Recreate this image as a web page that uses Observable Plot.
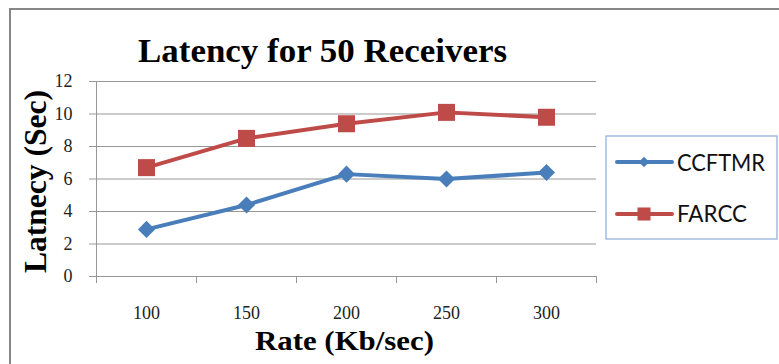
<!DOCTYPE html>
<html>
<head>
<meta charset="utf-8">
<script src="https://cdn.jsdelivr.net/npm/d3@7"></script>
<script src="https://cdn.jsdelivr.net/npm/@observablehq/plot@0.6"></script>
<style>
  html, body { margin: 0; padding: 0; background: #fff; }
  svg { display: block; }
</style>
</head>
<body>
<div id="chart"></div>
<script>
// Transmission rate (Kb/sec) on the category axis
const rates = [100, 150, 200, 250, 300];
// Latency in seconds for each protocol
const ccftmr = [2.9, 4.4, 6.3, 6.0, 6.4];
const farcc = [6.7, 8.5, 9.4, 10.1, 9.8];
const seriesNames = ["CCFTMR", "FARCC"];
const seriesColors = ["#4a7ebb", "#be4b48"];
const yTicks = [0, 2, 4, 6, 8, 10, 12];
// category boundaries where the x-axis tick marks sit
const xBounds = [75, 125, 175, 225, 275, 325];

const rows = [
  ...rates.map((r, i) => ({rate: r, latency: ccftmr[i], series: seriesNames[0]})),
  ...rates.map((r, i) => ({rate: r, latency: farcc[i], series: seriesNames[1]}))
];

const serif = "'Liberation Serif', 'Times New Roman', serif";
const grid = "#979797";

const svg = Plot.plot({
  width: 779,
  height: 364,
  marginLeft: 96,
  marginRight: 183,
  marginTop: 81,
  marginBottom: 88,
  style: {background: "#fff", fontFamily: serif, fontSize: "18px"},
  x: {type: "linear", domain: [75, 325]},
  y: {domain: [0, 12]},
  color: {domain: seriesNames, range: seriesColors},
  marks: [
    Plot.ruleY(yTicks, {stroke: grid, strokeWidth: 1}),
    Plot.ruleX([75], {stroke: grid, strokeWidth: 1}),
    Plot.axisY(yTicks, {tickSize: 7, tickPadding: 17, fontSize: 18, stroke: grid, fill: "#222", label: null, fontFamily: serif}),
    Plot.axisX(xBounds, {tickSize: 7, tickFormat: () => "", stroke: grid, label: null}),
    Plot.axisX(rates, {tickSize: 0, tickPadding: 30, fontSize: 18, fill: "#222", label: null, fontFamily: serif}),
    Plot.line(rows, {x: "rate", y: "latency", z: "series", stroke: "series", strokeWidth: 4, strokeLinejoin: "round"}),
    Plot.dot(rows.filter(d => d.series === seriesNames[0]), {x: "rate", y: "latency", symbol: "diamond2", r: 7.7, fill: seriesColors[0], stroke: "none"}),
    Plot.dot(rows.filter(d => d.series === seriesNames[1]), {x: "rate", y: "latency", symbol: "square", r: 9.6, fill: seriesColors[1], stroke: "none"})
  ]
});

const s = d3.select(svg);

// tick label size
s.selectAll("g[aria-label$='tick label']").attr("font-size", 18);

// chart area border
s.append("rect")
  .attr("x", 10).attr("y", 9).attr("width", 900).attr("height", 500)
  .attr("fill", "none").attr("stroke", "#868686").attr("stroke-width", 2);

// title
s.append("text")
  .attr("x", 138).attr("y", 62)
  .attr("text-anchor", "start")
  .attr("font-family", serif).attr("font-weight", "bold").attr("font-size", 33)
  .attr("textLength", 369).attr("lengthAdjust", "spacingAndGlyphs")
  .text("Latency for 50 Receivers");

// axis titles
s.append("text")
  .attr("x", 255).attr("y", 350)
  .attr("text-anchor", "start")
  .attr("font-family", serif).attr("font-weight", "bold").attr("font-size", 27)
  .attr("textLength", 179).attr("lengthAdjust", "spacingAndGlyphs")
  .text("Rate (Kb/sec)");

s.append("text")
  .attr("transform", "translate(46,273) rotate(-90)")
  .attr("text-anchor", "start")
  .attr("font-family", serif).attr("font-weight", "bold").attr("font-size", 31)
  .attr("textLength", 183).attr("lengthAdjust", "spacingAndGlyphs")
  .text("Latnecy (Sec)");

// legend
const lg = s.append("g");
lg.append("rect")
  .attr("x", 606).attr("y", 136).attr("width", 171).attr("height", 103)
  .attr("fill", "#fff").attr("stroke", "#8eaadb").attr("stroke-width", 1.2);

const entries = [
  {name: seriesNames[0], color: seriesColors[0], y: 162, base: 171, len: 88, symbol: d3.symbolDiamond2, size: 70},
  {name: seriesNames[1], color: seriesColors[1], y: 214, base: 222, len: 70, symbol: d3.symbolSquare, size: 170}
];
for (const e of entries) {
  lg.append("line")
    .attr("x1", 617).attr("x2", 672).attr("y1", e.y).attr("y2", e.y)
    .attr("stroke", e.color).attr("stroke-width", 4).attr("stroke-linecap", "round");
  lg.append("path")
    .attr("transform", `translate(644,${e.y})`)
    .attr("d", d3.symbol(e.symbol, e.size)())
    .attr("fill", e.color);
  lg.append("text")
    .attr("x", 677).attr("y", e.base)
    .attr("text-anchor", "start")
    .attr("font-family", "Lato, 'Open Sans', sans-serif").attr("font-size", 24)
    .attr("textLength", e.len).attr("lengthAdjust", "spacingAndGlyphs")
    .attr("fill", "#111")
    .text(e.name);
}

document.getElementById("chart").appendChild(svg);
</script>
</body>
</html>
